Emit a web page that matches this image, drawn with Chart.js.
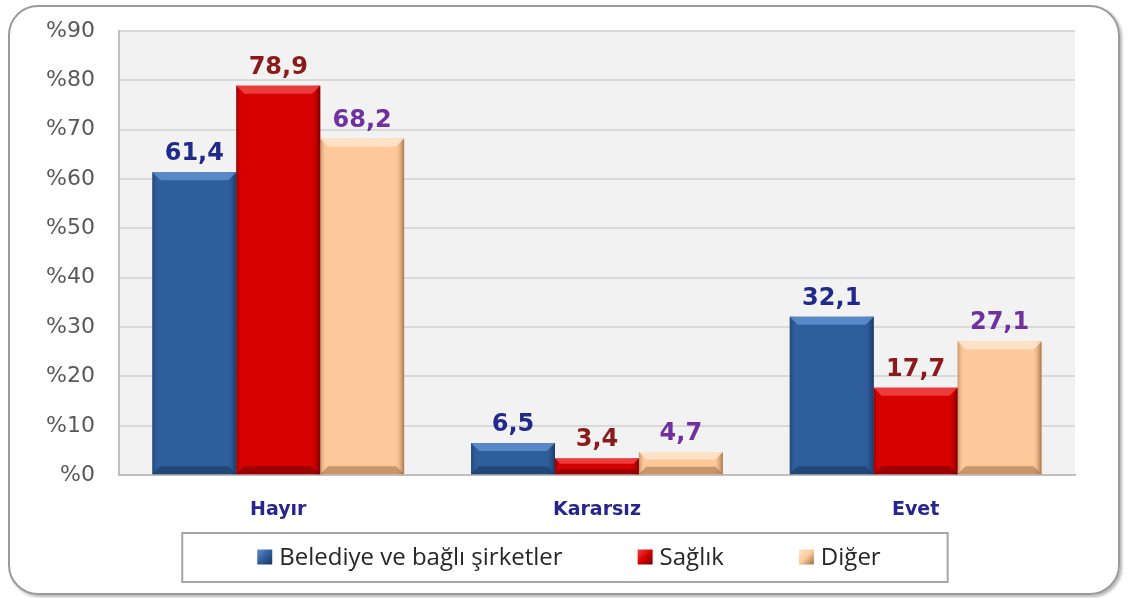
<!DOCTYPE html>
<html>
<head>
<meta charset="utf-8">
<script src="https://cdn.jsdelivr.net/npm/chart.js@4"></script>
<style>
  body { margin: 0; background: #fff; }
  #frame {
    position: absolute; left: 8px; top: 5px; width: 1108px; height: 586px;
    border: 2px solid #9a9a9a; border-radius: 30px;
    box-shadow: 2px 2px 3px #b5b5b5;
  }
  #myChart { position: absolute; left: 0; top: 0; }
</style>
</head>
<body>
<div id="frame"></div>
<canvas id="myChart" width="1128" height="598"></canvas>
<script>
'use strict';

const categories = ['Hayır', 'Kararsız', 'Evet'];
const seriesNames = ['Belediye ve bağlı şirketler', 'Sağlık', 'Diğer'];
const belediye = [61.4, 6.5, 32.1];
const saglik = [78.9, 3.4, 17.7];
const diger = [68.2, 4.7, 27.1];

// bar colours and label colour per series
const palette = [
  { edge: '#17345c', main: '#2f5e9c', light: '#5f8fd0', label: '#1f2a8a' },
  { edge: '#6e0000', main: '#d60000', light: '#f04545', label: '#8b1a1a' },
  { edge: '#9c6c44', main: '#fdc99a', light: '#ffe6cc', label: '#7030a0' }
];

const plotBg = {
  id: 'plotBg',
  beforeDraw(chart) {
    const { ctx, chartArea: a } = chart;
    ctx.save();
    ctx.fillStyle = '#f2f2f2';
    ctx.fillRect(a.left, a.top, a.right - a.left, a.bottom - a.top);
    ctx.restore();
  }
};

// bevel shading on each bar + value labels
const barExtras = {
  id: 'barExtras',
  afterDatasetsDraw(chart) {
    const ctx = chart.ctx;
    chart.data.datasets.forEach((ds, i) => {
      const meta = chart.getDatasetMeta(i);
      const p = palette[i];
      meta.data.forEach((el, j) => {
        const l = el.x - el.width / 2, r = el.x + el.width / 2;
        const t = el.y, b = el.base;
        const bev = Math.min(8, (b - t) / 3);
        ctx.save();
        // side edges
        let g = ctx.createLinearGradient(l, 0, l + 6, 0);
        g.addColorStop(0, p.edge); g.addColorStop(1, p.main + '00');
        ctx.globalAlpha = 0.6;
        ctx.fillStyle = g;
        ctx.fillRect(l, t, 6, b - t);
        g = ctx.createLinearGradient(r - 9, 0, r, 0);
        g.addColorStop(0, p.main + '00'); g.addColorStop(1, p.edge);
        ctx.globalAlpha = 0.9;
        ctx.fillStyle = g;
        ctx.fillRect(r - 9, t, 9, b - t);
        // top bevel
        ctx.globalAlpha = 0.85;
        ctx.fillStyle = p.light;
        ctx.beginPath();
        ctx.moveTo(l, t); ctx.lineTo(r, t);
        ctx.lineTo(r - bev, t + bev); ctx.lineTo(l + bev, t + bev);
        ctx.closePath(); ctx.fill();
        // bottom bevel
        ctx.fillStyle = p.edge;
        ctx.globalAlpha = 0.55;
        ctx.beginPath();
        ctx.moveTo(l, b); ctx.lineTo(r, b);
        ctx.lineTo(r - bev, b - bev); ctx.lineTo(l + bev, b - bev);
        ctx.closePath(); ctx.fill();
        ctx.restore();

        ctx.save();
        ctx.font = 'bold 24px "DejaVu Sans"';
        ctx.fillStyle = p.label;
        ctx.textAlign = 'center';
        ctx.textBaseline = 'alphabetic';
        ctx.fillText(ds.data[j].toFixed(1).replace('.', ','), el.x, t - 12);
        ctx.restore();
      });
    });
  }
};

// legend drawn in a framed box under the axis
const boxLegend = {
  id: 'boxLegend',
  afterDraw(chart) {
    const ctx = chart.ctx;
    const sq = 15, textGap = 7, itemGap = 75;
    ctx.save();
    ctx.font = '24px "Open Sans"';
    const widths = seriesNames.map((n) => sq + textGap + ctx.measureText(n).width);
    const total = widths.reduce((s, w) => s + w, 0) + itemGap * (widths.length - 1);
    const cx = (chart.chartArea.left + chart.chartArea.right) / 2 - 28;
    const cy = 557;
    let x = cx - total / 2;
    ctx.strokeStyle = '#a6a6a6';
    ctx.lineWidth = 2;
    ctx.strokeRect(x - 75, 533, total + 142, 49);
    ctx.textBaseline = 'middle';
    seriesNames.forEach((n, i) => {
      const p = palette[i];
      const g = ctx.createLinearGradient(x, cy - sq / 2, x + sq, cy + sq / 2);
      g.addColorStop(0, p.light); g.addColorStop(0.5, p.main); g.addColorStop(1, p.edge);
      ctx.fillStyle = g;
      ctx.fillRect(x, cy - sq / 2, sq, sq);
      ctx.fillStyle = '#262626';
      ctx.fillText(n, x + sq + textGap, cy + 1);
      x += widths[i] + itemGap;
    });
    ctx.restore();
  }
};

const datasets = [belediye, saglik, diger].map((vals, i) => ({
  label: seriesNames[i],
  data: vals,
  backgroundColor: palette[i].main,
  borderWidth: 0
}));

new Chart(document.getElementById('myChart'), {
  type: 'bar',
  data: { labels: categories, datasets: datasets },
  options: {
    responsive: false,
    animation: false,
    categoryPercentage: 0.79,
    barPercentage: 1.0,
    layout: { autoPadding: false, padding: { left: 22, right: 53, top: 31, bottom: 62 } },
    scales: {
      x: {
        grid: { display: false },
        border: { color: '#bfbfbf', width: 2 },
        ticks: {
          padding: 15,
          color: '#26268c',
          font: { family: 'DejaVu Sans', size: 19, weight: 'bold' }
        }
      },
      y: {
        min: 0,
        max: 90,
        grid: { color: '#d9d9d9', lineWidth: 2, drawTicks: false },
        border: { color: '#bfbfbf', width: 2 },
        afterFit: (scale) => { scale.paddingTop = 0; scale.paddingBottom = 0; },
        ticks: {
          stepSize: 10,
          padding: 24,
          color: '#595959',
          font: { family: 'DejaVu Sans', size: 22 },
          callback: (v) => '%' + v
        }
      }
    },
    plugins: {
      legend: { display: false },
      tooltip: { enabled: false }
    }
  },
  plugins: [plotBg, barExtras, boxLegend]
});
</script>
</body>
</html>
